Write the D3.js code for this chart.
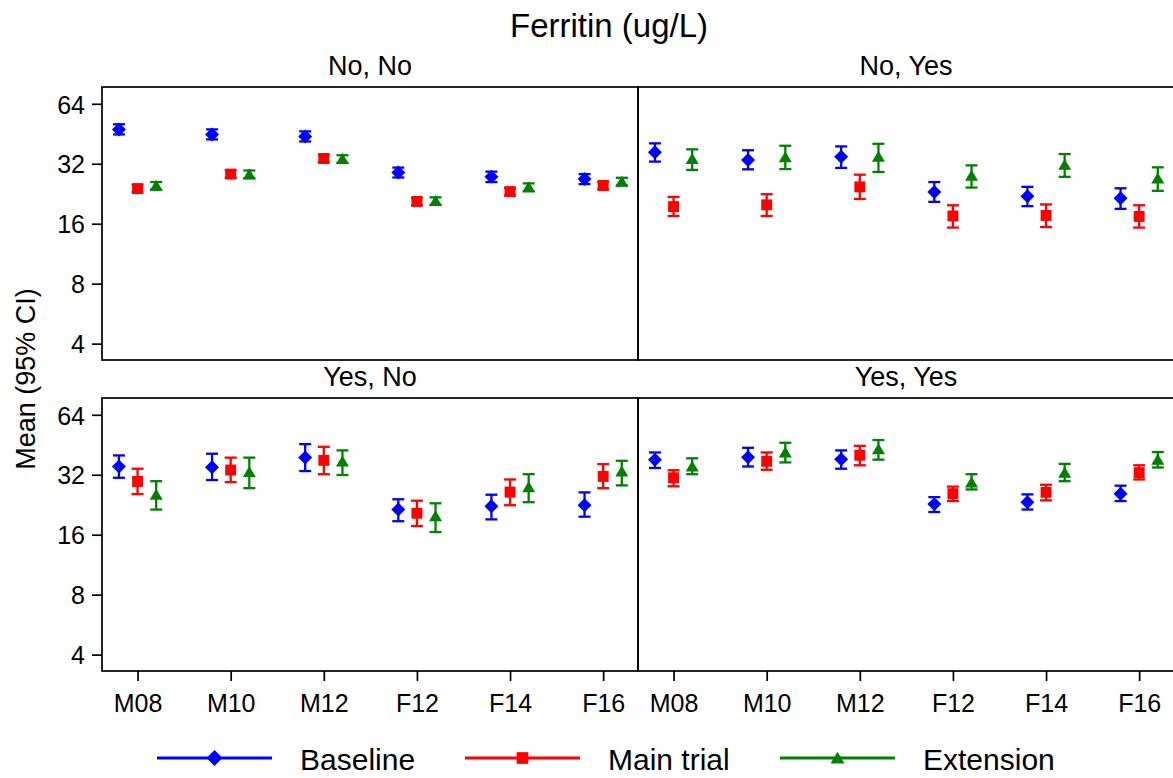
<!DOCTYPE html>
<html>
<head>
<meta charset="utf-8">
<script src="https://cdn.jsdelivr.net/npm/d3@7"></script>
<style>
  html, body { margin: 0; padding: 0; background: #fff; }
  svg { display: block; font-family: "Liberation Sans", Arial, Helvetica, sans-serif; }
</style>
</head>
<body>
<svg id="chart" width="1173" height="778"></svg>
<script>
// ---- data -----------------------------------------------------------------
const groups = ["No, No", "No, Yes", "Yes, No", "Yes, Yes"];
const ages = ["M08", "M10", "M12", "F12", "F14", "F16"];
const seriesNames = ["Baseline", "Main trial", "Extension"];
const seriesColors = ["#0000ff", "#ff0000", "#008000"];
const yTicks = [4, 8, 16, 32, 64];

// Each entry: [lower 95% CI, mean, upper 95% CI], one per age group
const noNoBaseline  = [[44.9, 47.6, 50.5], [42.4, 44.9, 47.6], [41.4, 43.9, 46.5], [27.3, 28.9, 30.6], [25.9, 27.5, 29.2], [25.3, 26.8, 28.4]];
const noNoMain      = [[23.0, 24.0, 25.1], [27.2, 28.4, 29.7], [32.5, 34.0, 35.5], [19.8, 20.7, 21.6], [22.2, 23.2, 24.2], [23.8, 24.9, 26.0]];
const noNoExtension = [[23.7, 24.8, 25.9], [27.1, 28.3, 29.6], [32.3, 33.8, 35.3], [19.9, 20.8, 21.7], [23.3, 24.4, 25.5], [24.9, 26.0, 27.2]];

const noYesBaseline  = [[32.8, 36.5, 40.5], [30.0, 33.4, 37.4], [30.5, 34.7, 39.1], [20.6, 23.1, 25.9], [19.6, 22.0, 24.5], [19.0, 21.5, 24.1]];
const noYesMain      = [[17.5, 19.5, 21.8], [17.5, 19.9, 22.5], [21.3, 24.5, 28.2], [15.3, 17.5, 19.8], [15.4, 17.6, 20.0], [15.3, 17.4, 19.8]];
const noYesExtension = [[29.8, 33.8, 37.8], [30.1, 34.5, 39.4], [29.1, 34.7, 40.3], [24.3, 27.9, 31.4], [27.5, 31.6, 35.8], [23.4, 27.0, 30.7]];

const yesNoBaseline  = [[30.9, 35.2, 40.0], [30.1, 34.9, 40.8], [33.4, 39.1, 45.6], [18.7, 21.4, 24.1], [19.1, 22.2, 25.4], [19.7, 22.5, 26.1]];
const yesNoMain      = [[25.6, 29.6, 34.3], [29.4, 33.8, 39.0], [32.2, 37.8, 44.2], [17.7, 20.5, 23.7], [22.5, 26.2, 30.3], [27.4, 31.4, 36.2]];
const yesNoExtension = [[21.4, 25.4, 29.7], [27.4, 33.0, 39.0], [31.9, 37.3, 42.4], [16.5, 19.8, 23.0], [23.3, 27.7, 32.2], [28.3, 33.2, 37.6]];

const yesYesBaseline  = [[34.6, 38.1, 41.4], [35.2, 39.2, 43.7], [34.3, 38.3, 42.4], [20.8, 22.8, 24.7], [21.4, 23.3, 25.5], [23.6, 25.7, 28.2]];
const yesYesMain      = [[28.0, 30.9, 33.7], [33.9, 37.4, 41.4], [35.7, 40.1, 44.7], [23.6, 25.7, 27.9], [23.8, 26.1, 28.5], [30.3, 32.8, 35.7]];
const yesYesExtension = [[32.2, 35.2, 38.7], [36.9, 41.4, 46.3], [38.1, 43.0, 47.8], [27.0, 29.3, 32.2], [29.7, 32.8, 36.3], [34.8, 38.1, 41.6]];

const panelData = [
  [noNoBaseline, noNoMain, noNoExtension],
  [noYesBaseline, noYesMain, noYesExtension],
  [yesNoBaseline, yesNoMain, yesNoExtension],
  [yesYesBaseline, yesYesMain, yesYesExtension]
];

// ---- layout ---------------------------------------------------------------
const svg = d3.select("#chart");
const panelW = 536, panelH = 273;
const panelLeft = 102;
const panelTops = [87, 398];
const frameW = 1.7;

const x = d3.scaleLinear().domain([-0.382, 5.374]).range([0, panelW]);
const y = d3.scaleLog().base(2).domain([3.31, 77.7]).range([panelH, 0]);
const seriesOffset = [-0.2, 0, 0.2];

// marker shapes, centred on 0,0
function markerPath(kind, s) {
  if (kind === 0) { // diamond
    return `M0,${-s}L${s},0L0,${s}L${-s},0Z`;
  } else if (kind === 1) { // square
    const h = s * 0.78;
    return `M${-h},${-h}H${h}V${h}H${-h}Z`;
  } else { // triangle
    const w = s * 0.93, t = s * 0.85, b = s * 0.72;
    return `M0,${-t}L${w},${b}L${-w},${b}Z`;
  }
}

// Title
svg.append("text")
  .attr("x", 609).attr("y", 37)
  .attr("text-anchor", "middle")
  .attr("font-size", 33)
  .text("Ferritin (ug/L)");

// Y-axis title
svg.append("text")
  .attr("transform", "translate(35,379) rotate(-90)")
  .attr("text-anchor", "middle")
  .attr("font-size", 27)
  .text("Mean (95% CI)");

groups.forEach((name, gi) => {
  const col = gi % 2, row = Math.floor(gi / 2);
  const px = panelLeft + col * panelW;
  const py = panelTops[row];
  const g = svg.append("g").attr("transform", `translate(${px},${py})`);

  // panel heading
  svg.append("text")
    .attr("x", px + panelW / 2).attr("y", py - 12)
    .attr("text-anchor", "middle")
    .attr("font-size", 27)
    .text(name);

  // frame
  g.append("rect")
    .attr("x", 0).attr("y", 0)
    .attr("width", panelW).attr("height", panelH)
    .attr("fill", "none").attr("stroke", "#000").attr("stroke-width", frameW);

  if (col === 0) {
    const ax = g.append("g")
      .call(d3.axisLeft(y).tickValues(yTicks).tickFormat(d3.format("d")).tickSize(10).tickPadding(7));
    ax.select(".domain").remove();
    ax.selectAll(".tick line").attr("stroke", "#000").attr("stroke-width", frameW);
    ax.selectAll(".tick text").attr("font-size", 25).attr("fill", "#000")
      .attr("font-family", "Liberation Sans, Arial, sans-serif").attr("dy", "0.37em");
  }
  if (row === 1) {
    const ax = g.append("g").attr("transform", `translate(0,${panelH})`)
      .call(d3.axisBottom(x).tickValues(d3.range(ages.length)).tickFormat(i => ages[i]).tickSize(10).tickPadding(13));
    ax.select(".domain").remove();
    ax.selectAll(".tick line").attr("stroke", "#000").attr("stroke-width", frameW);
    ax.selectAll(".tick text").attr("font-size", 25).attr("fill", "#000")
      .attr("font-family", "Liberation Sans, Arial, sans-serif");
  }

  panelData[gi].forEach((vals, si) => {
    const color = seriesColors[si];
    const sg = g.append("g");
    vals.forEach((v, ci) => {
      const cx = x(ci + seriesOffset[si]);
      const [lo, mid, hi] = v;
      const eb = sg.append("g").attr("stroke", color).attr("stroke-width", 2.3).attr("fill", "none");
      eb.append("line").attr("x1", cx).attr("x2", cx).attr("y1", y(lo)).attr("y2", y(hi));
      eb.append("line").attr("x1", cx - 6).attr("x2", cx + 6).attr("y1", y(lo)).attr("y2", y(lo));
      eb.append("line").attr("x1", cx - 6).attr("x2", cx + 6).attr("y1", y(hi)).attr("y2", y(hi));
      sg.append("path")
        .attr("d", markerPath(si, 7))
        .attr("transform", `translate(${cx},${y(mid)})`)
        .attr("fill", color);
    });
  });
});

// Legend
const legendX = [157, 465, 780];
const legendY = 758;
seriesNames.forEach((name, si) => {
  const lx = legendX[si];
  const lg = svg.append("g");
  lg.append("line")
    .attr("x1", lx).attr("x2", lx + 115)
    .attr("y1", legendY).attr("y2", legendY)
    .attr("stroke", seriesColors[si]).attr("stroke-width", 3);
  lg.append("path")
    .attr("d", markerPath(si, si === 0 ? 8 : 7.5))
    .attr("transform", `translate(${lx + 57.5},${legendY})`)
    .attr("fill", seriesColors[si]);
  lg.append("text")
    .attr("x", lx + 143).attr("y", 770)
    .attr("font-size", 30)
    .text(name);
});
</script>
</body>
</html>
